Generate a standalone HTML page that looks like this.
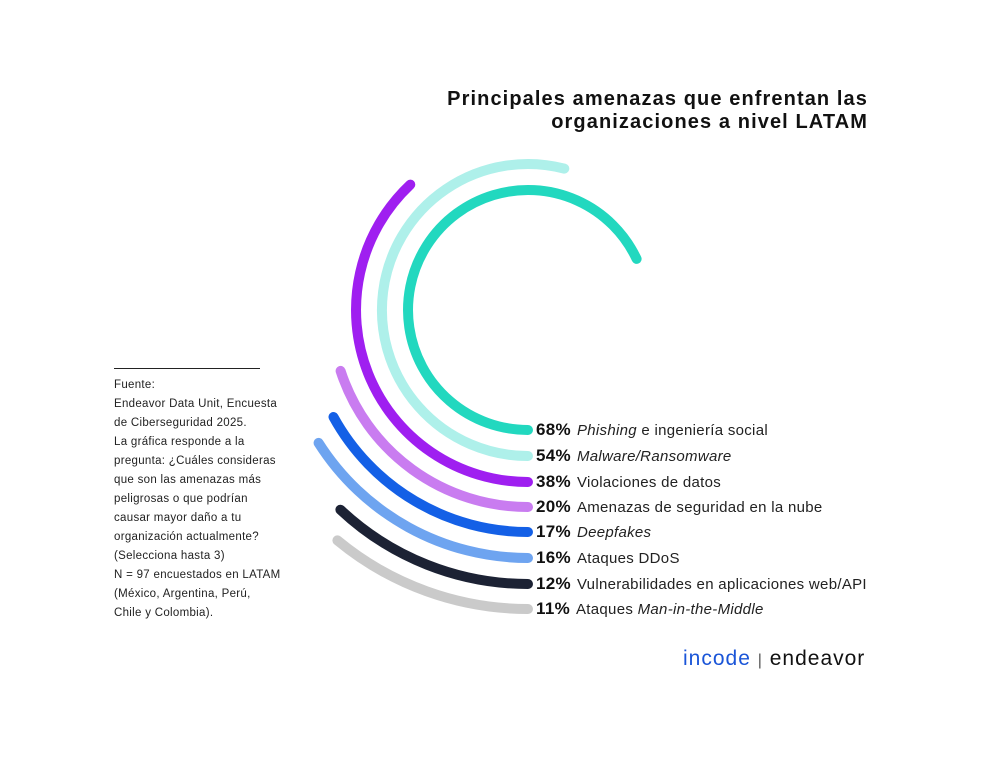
<!DOCTYPE html>
<html><head><meta charset="utf-8"><style>
body{margin:0;width:992px;height:763px;background:#fff;font-family:"Liberation Sans",sans-serif;overflow:hidden;position:relative}
.t{position:absolute;left:0;width:868px;top:88px;text-align:right;font-weight:bold;font-size:20px;line-height:23px;color:#111;letter-spacing:1.1px}
.src{position:absolute;left:114px;top:368px;width:146px;border-top:1px solid #222;padding-top:7px;font-size:11.5px;line-height:19px;color:#222;white-space:nowrap;letter-spacing:0.3px}
.lab{position:absolute;left:536px;font-size:15px;color:#222;white-space:nowrap;letter-spacing:0.3px}
.lab b{font-size:17px;margin-right:6px;color:#111}
.logo{position:absolute;left:683px;top:647px;font-size:21px;letter-spacing:1px}
</style></head><body>
<div class="t">Principales amenazas que enfrentan las<br>organizaciones a nivel LATAM</div>
<svg width="992" height="763" style="position:absolute;left:0;top:0" fill="none" stroke-width="10" stroke-linecap="round">
<path d="M528 430 A120 120 0 1 1 636.6 258.9" stroke="#22d8bf"/>
<path d="M528 456 A146 146 0 1 1 564.3 168.6" stroke="#aef0ea"/>
<path d="M528 482 A172 172 0 0 1 410.3 184.6" stroke="#9f1ff0"/>
<path d="M528 507 A197 197 0 0 1 340.6 370.9" stroke="#c97cf0"/>
<path d="M528 532 A222 222 0 0 1 333.5 417" stroke="#1460e6"/>
<path d="M528 558 A248 248 0 0 1 318.6 442.9" stroke="#6ea4f0"/>
<path d="M528 584 A274 274 0 0 1 340.4 509.7" stroke="#1c2234"/>
<path d="M528 609 A299 299 0 0 1 337.4 540.4" stroke="#cacaca"/>
</svg>
<div class="src">Fuente:<br>Endeavor Data Unit, Encuesta<br>de Ciberseguridad 2025.<br>La gráfica responde a la<br>pregunta: ¿Cuáles consideras<br>que son las amenazas más<br>peligrosas o que podrían<br>causar mayor daño a tu<br>organización actualmente?<br>(Selecciona hasta 3)<br>N = 97 encuestados en LATAM<br>(México, Argentina, Perú,<br>Chile y Colombia).</div>
<div class="lab" style="top:420px"><b>68%</b><i>Phishing</i> e ingeniería social</div>
<div class="lab" style="top:446px"><b>54%</b><i>Malware/Ransomware</i></div>
<div class="lab" style="top:472px"><b>38%</b>Violaciones de datos</div>
<div class="lab" style="top:497px"><b>20%</b>Amenazas de seguridad en la nube</div>
<div class="lab" style="top:522px"><b>17%</b><i>Deepfakes</i></div>
<div class="lab" style="top:548px"><b>16%</b>Ataques DDoS</div>
<div class="lab" style="top:574px"><b>12%</b>Vulnerabilidades en aplicaciones web/API</div>
<div class="lab" style="top:599px"><b>11%</b>Ataques <i>Man-in-the-Middle</i></div>
<div class="logo"><span style="color:#1a55d8">incode</span> <span style="color:#555;font-size:16px">|</span> <span style="color:#111">endeavor</span></div>
</body></html>
